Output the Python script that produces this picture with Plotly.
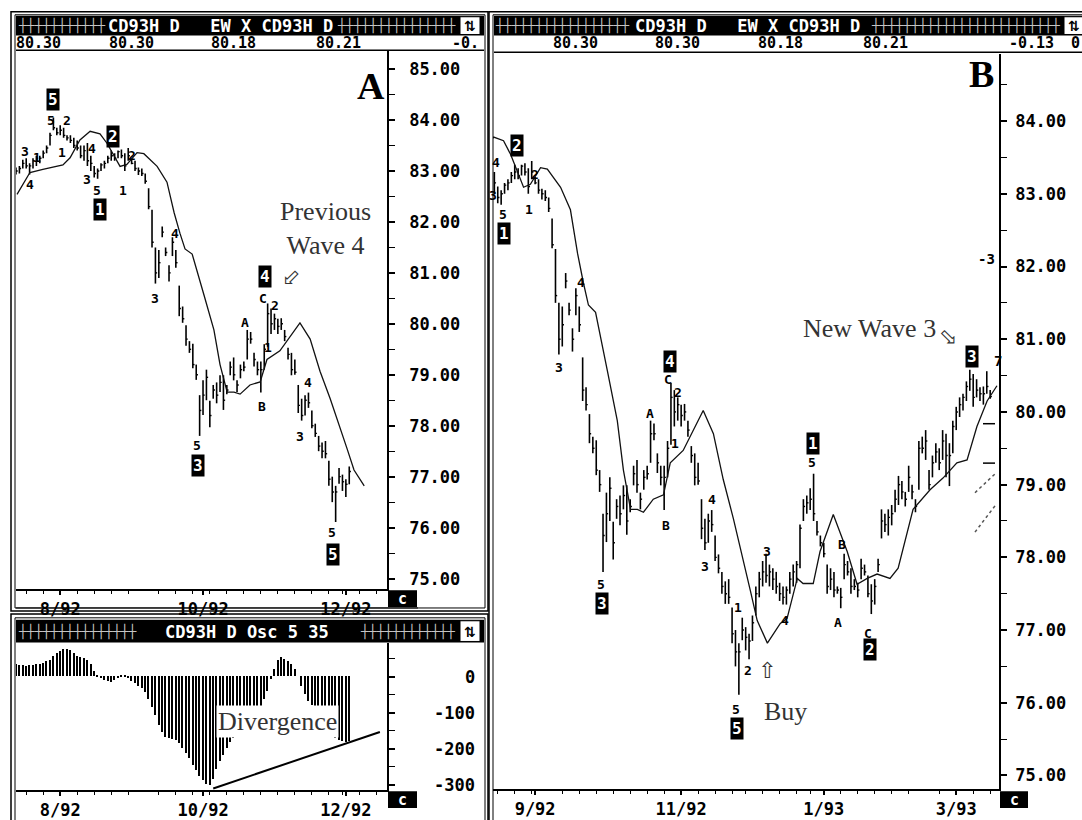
import pandas as pd
import plotly.graph_objects as go

W, H = 1082, 820
MONO = "DejaVu Sans Mono"
SERIF = "Liberation Serif"

# ---------------- data ----------------
title_main = "CD93H D   EW X CD93H D"
title_osc = "CD93H D Osc 5 35"
quote_row = ["80.30", "80.30", "80.18", "80.21", "-0.13", "0"]

first_day = "1992-07-15"
exchange_holidays = ["1992-09-07", "1992-11-26", "1992-12-25", "1993-01-01", "1993-02-15"]

highs = [83.07, 83.10, 83.22, 83.25, 83.15, 83.25, 83.30, 83.30, 83.40, 83.50,
         83.75, 84.05, 83.85, 83.90, 83.85, 83.70, 83.70, 83.65, 83.60, 83.50,
         83.50, 83.55, 83.30, 83.10, 83.05, 83.15, 83.20, 83.30, 83.40, 83.35,
         83.40, 83.42, 83.35, 83.45, 83.23, 83.20, 83.07, 83.05, 82.95, 82.66,
         82.24, 81.50, 81.45, 81.91, 81.50, 81.15, 81.70, 81.45, 80.75, 80.34,
         79.97, 79.66, 79.61, 79.20, 78.60, 78.89, 79.10, 78.49, 78.80, 78.85,
         78.99, 78.99, 78.80, 79.26, 79.34, 78.89, 79.20, 79.26, 79.88, 79.84,
         79.43, 79.26, 79.26, 79.60, 80.40, 80.30, 80.20, 80.10, 80.11, 79.88,
         79.53, 79.43, 79.30, 78.80, 78.53, 78.60, 78.65, 78.30, 78.04, 77.80,
         77.67, 77.70, 77.31, 77.00, 76.82, 77.17, 77.04, 76.95, 77.20, 77.60,
         77.80, 77.95, 78.05, 77.90, 77.85, 77.80, 77.65, 77.60, 77.60, 77.80,
         77.90, 77.95, 78.45, 78.80, 78.85, 78.95, 79.15, 78.50, 78.30, 78.20,
         77.90, 77.85, 77.80, 77.60, 77.58, 78.05, 77.95, 77.85, 77.70, 77.65,
         77.98, 77.90, 77.75, 77.63, 77.70, 77.98, 78.66, 78.60, 78.66, 78.72,
         78.93, 79.12, 79.05, 78.90, 79.26, 79.00, 78.80, 79.60, 79.66, 79.75,
         79.20, 79.40, 79.57, 79.50, 79.75, 79.70, 79.57, 79.88, 80.07, 80.20,
         80.25, 80.42, 80.58, 80.52, 80.45, 80.34, 80.35, 80.56, 80.30]
lows = [82.93, 82.95, 83.05, 83.05, 82.93, 83.05, 83.10, 83.15, 83.25, 83.35,
        83.50, 83.80, 83.70, 83.70, 83.65, 83.60, 83.55, 83.45, 83.40, 83.25,
        83.20, 83.10, 83.00, 82.87, 82.85, 83.00, 83.05, 83.15, 83.20, 83.20,
        83.25, 83.25, 83.00, 83.20, 83.13, 83.00, 82.92, 82.90, 82.75, 82.25,
        81.50, 80.79, 80.90, 81.70, 81.33, 80.83, 81.33, 81.10, 80.15, 80.02,
        79.57, 79.43, 79.13, 78.90, 77.80, 78.21, 78.50, 77.97, 78.53, 78.44,
        78.66, 78.31, 78.62, 78.99, 78.89, 78.66, 78.93, 79.07, 79.30, 79.61,
        79.16, 78.99, 78.65, 79.10, 79.55, 79.80, 79.88, 79.80, 79.88, 79.66,
        79.30, 78.99, 79.00, 78.25, 78.10, 78.20, 78.35, 77.95, 77.78, 77.50,
        77.36, 77.36, 76.82, 76.50, 76.11, 76.86, 76.72, 76.60, 76.85, 77.20,
        77.45, 77.60, 77.65, 77.60, 77.55, 77.50, 77.40, 77.35, 77.35, 77.50,
        77.60, 77.65, 77.85, 78.50, 78.60, 78.65, 78.50, 78.30, 78.15, 78.00,
        77.50, 77.55, 77.45, 77.50, 77.30, 77.70, 77.75, 77.50, 77.55, 77.45,
        77.70, 77.75, 77.45, 77.22, 77.35, 77.80, 78.26, 78.35, 78.30, 78.44,
        78.62, 78.72, 78.80, 78.70, 78.90, 78.80, 78.62, 78.93, 79.43, 79.34,
        78.93, 79.10, 79.30, 79.20, 79.34, 79.10, 78.98, 79.43, 79.75, 79.93,
        80.02, 80.15, 80.29, 80.07, 80.20, 80.15, 80.10, 80.25, 80.18]
closes = [83.00, 83.05, 83.15, 83.10, 83.10, 83.20, 83.25, 83.25, 83.35, 83.45,
          83.70, 83.85, 83.75, 83.80, 83.70, 83.65, 83.60, 83.50, 83.45, 83.30,
          83.40, 83.20, 83.15, 82.95, 83.00, 83.12, 83.15, 83.25, 83.30, 83.25,
          83.38, 83.30, 83.10, 83.30, 83.15, 83.05, 83.00, 82.95, 82.80, 82.30,
          81.60, 81.00, 81.20, 81.80, 81.40, 81.00, 81.60, 81.20, 80.30, 80.10,
          79.70, 79.50, 79.20, 79.00, 78.30, 78.60, 78.95, 78.20, 78.70, 78.60,
          78.85, 78.50, 78.70, 79.15, 79.00, 78.80, 79.10, 79.15, 79.70, 79.70,
          79.30, 79.10, 79.10, 79.50, 80.20, 80.00, 80.10, 79.95, 80.00, 79.75,
          79.40, 79.10, 79.05, 78.40, 78.20, 78.50, 78.45, 78.00, 77.85, 77.60,
          77.50, 77.45, 76.95, 76.70, 76.70, 77.00, 76.90, 76.85, 77.10, 77.50,
          77.70, 77.80, 77.75, 77.80, 77.70, 77.60, 77.50, 77.45, 77.55, 77.70,
          77.80, 77.90, 78.40, 78.70, 78.75, 78.80, 78.60, 78.35, 78.20, 78.05,
          77.60, 77.70, 77.55, 77.55, 77.45, 77.90, 77.80, 77.60, 77.60, 77.55,
          77.85, 77.80, 77.50, 77.40, 77.60, 77.90, 78.50, 78.45, 78.55, 78.60,
          78.80, 79.00, 78.90, 78.80, 79.10, 78.90, 78.70, 79.50, 79.50, 79.60,
          79.00, 79.30, 79.45, 79.30, 79.60, 79.40, 79.40, 79.80, 80.00, 80.10,
          80.20, 80.35, 80.45, 80.20, 80.30, 80.25, 80.25, 80.35, 80.21]

panel_a_last_bar = 98
panel_a_last_avg = 103.5

avg_x = [0.3, 4.1, 7.9, 13.8, 15.9, 18.8, 21.8, 24.7, 26.8, 30.6, 32.6, 35.6, 37.6,
         41.5, 44.4, 46.5, 48.2, 49.7, 51.8, 53.2, 55.3, 58.2, 60.0, 62.1, 64.1,
         65.9, 68.8, 71.8, 73.8, 77.6, 80.6, 83.5, 86.5, 89.4, 92.4, 95.3, 97.4,
         99.4, 102.4, 106.2, 108.2, 111.2, 112.9, 115.9, 117.9, 121.8, 125.9,
         128.8, 131.8, 134.7, 138.5, 140.9, 142.4, 145.3, 150.3, 154.1, 158.2,
         161.2, 164.1, 167.1, 170.0]
avg_y = [82.54, 82.97, 83.03, 83.12, 83.26, 83.61, 83.78, 83.73, 83.54, 83.09,
         83.13, 83.36, 83.34, 83.09, 82.78, 82.18, 81.78, 81.47, 81.37, 81.06,
         80.56, 79.88, 79.20, 78.66, 78.66, 78.62, 78.80, 78.86, 79.30, 79.47,
         79.75, 80.02, 79.70, 79.07, 78.53, 77.98, 77.54, 77.13, 76.82, 77.09,
         77.16, 77.71, 77.64, 77.64, 78.08, 78.59, 78.08, 77.63, 77.71, 77.77,
         77.71, 77.85, 78.12, 78.66, 78.93, 79.09, 79.30, 79.34, 79.80, 80.15,
         80.36]

osc_values = [34, 33, 31, 29, 31, 33, 34, 36, 38, 43,
              47, 57, 64, 70, 75, 77, 73, 66, 58, 53,
              52, 47, 34, 16, 4, -5, -9, -12, -16, -9,
              -3, 4, 2, -5, -12, -18, -26, -33, -44, -62,
              -85, -108, -135, -153, -167, -172, -174, -176, -185, -199,
              -213, -226, -245, -261, -277, -289, -300, -301, -286, -258,
              -236, -217, -199, -183, -172, -163, -153, -144, -135, -126,
              -117, -103, -85, -62, -39, -7, 20, 47, 55, 49,
              43, 34, 20, 0, -26, -48, -67, -80, -99, -117,
              -131, -144, -153, -163, -172, -176, -179, -181, -179]

divergence_x = [58, 107]
divergence_y = [-310, -153]

price_ticks_a = [75, 76, 77, 78, 79, 80, 81, 82, 83, 84, 85]
price_ticks_b = [75, 76, 77, 78, 79, 80, 81, 82, 83, 84]
osc_ticks = [0, -100, -200, -300]
month_labels_a = ["8/92", "10/92", "12/92"]
month_labels_b = ["9/92", "11/92", "1/93", "3/93"]

# wave counts: (bar position, price, label, boxed)
waves_a = [(2.6, 83.39, "3", False), (4.1, 82.74, "4", False), (6.2, 83.26, "1", False),
           (13.5, 83.36, "1", False), (10.3, 83.99, "5", False), (10.9, 84.40, "5", True),
           (15.0, 83.99, "2", False), (22.4, 83.45, "4", False), (20.9, 82.83, "3", False),
           (23.8, 82.62, "5", False), (24.7, 82.25, "1", True), (28.5, 83.68, "2", True),
           (34.1, 83.30, "2", False), (31.5, 82.62, "1", False), (46.8, 81.77, "4", False),
           (40.9, 80.49, "3", False), (67.4, 80.03, "A", False), (73.2, 80.92, "4", True),
           (72.6, 80.49, "C", False), (76.2, 80.36, "2", False), (74.1, 79.53, "1", False),
           (72.4, 78.38, "B", False), (85.9, 78.85, "4", False), (83.5, 77.79, "3", False),
           (53.2, 77.61, "5", False), (53.5, 77.22, "3", True), (92.9, 75.91, "5", False),
           (93.2, 75.48, "5", True)]
waves_b = [(22.4, 83.43, "4", False), (21.7, 82.98, "3", False), (24.4, 82.71, "5", False),
           (24.7, 82.46, "1", True), (28.8, 83.67, "2", True), (32.1, 82.78, "1", False),
           (34.1, 83.27, "2", False), (47.4, 81.78, "4", False), (40.9, 80.61, "3", False),
           (73.8, 80.70, "4", True), (73.2, 80.45, "C", False), (76.2, 80.27, "2", False),
           (75.3, 79.57, "1", False), (67.9, 79.98, "A", False), (72.4, 78.44, "B", False),
           (53.5, 77.63, "5", False), (53.8, 77.37, "3", True), (86.2, 78.80, "4", False),
           (84.1, 77.88, "3", False), (93.8, 77.31, "1", False), (93.2, 75.91, "5", False),
           (93.5, 75.64, "5", True), (96.8, 76.45, "2", False), (102.4, 78.08, "3", False),
           (107.6, 77.13, "4", False), (115.6, 79.30, "5", False), (115.9, 79.56, "1", True),
           (124.4, 78.17, "B", False), (123.2, 77.10, "A", False), (132.1, 76.95, "C", False),
           (132.6, 76.73, "2", True), (162.6, 80.76, "3", True)]

# ---------------- helpers ----------------
def px(x):
    return x / W


def py(y):
    return 1 - y / H


dates = pd.bdate_range(first_day, periods=len(highs) + 5, freq="C", holidays=exchange_holidays)
month_first = {}
for i, d in enumerate(dates):
    month_first.setdefault(f"{d.month}/{d.strftime('%y')}", i)
week_marks = [i for i, d in enumerate(dates) if d.weekday() == 0]


def bar_segments(n0, n1):
    xs, ys, cx, cy = [], [], [], []
    for i in range(n0, n1):
        xs += [i, i, None]
        ys += [highs[i], lows[i], None]
        cx += [i, i + 0.5, None]
        cy += [closes[i], closes[i], None]
    return xs, ys, cx, cy


fig = go.Figure()

# Panel A price bars
xs, ys, cx, cy = bar_segments(0, panel_a_last_bar + 1)
fig.add_trace(go.Scatter(x=xs, y=ys, mode="lines", line=dict(color="black", width=1.6),
                         xaxis="x", yaxis="y", hoverinfo="skip"))
fig.add_trace(go.Scatter(x=cx, y=cy, mode="lines", line=dict(color="black", width=1.4),
                         xaxis="x", yaxis="y", hoverinfo="skip"))
a_avg = [(x, y) for x, y in zip(avg_x, avg_y) if x <= panel_a_last_avg]
fig.add_trace(go.Scatter(x=[p[0] for p in a_avg], y=[p[1] for p in a_avg], mode="lines",
                         line=dict(color="#111111", width=1.3), xaxis="x", yaxis="y"))

# Panel B price bars
xs, ys, cx, cy = bar_segments(0, len(highs))
fig.add_trace(go.Scatter(x=xs, y=ys, mode="lines", line=dict(color="black", width=1.6),
                         xaxis="x2", yaxis="y2", hoverinfo="skip"))
fig.add_trace(go.Scatter(x=cx, y=cy, mode="lines", line=dict(color="black", width=1.4),
                         xaxis="x2", yaxis="y2", hoverinfo="skip"))
fig.add_trace(go.Scatter(x=avg_x, y=avg_y, mode="lines",
                         line=dict(color="#111111", width=1.3), xaxis="x2", yaxis="y2"))

# Oscillator
fig.add_trace(go.Bar(x=list(range(len(osc_values))), y=osc_values, width=0.4,
                     marker=dict(color="black", line=dict(width=0)), xaxis="x3", yaxis="y3"))
fig.add_trace(go.Scatter(x=divergence_x, y=divergence_y, mode="lines",
                         line=dict(color="black", width=2), xaxis="x3", yaxis="y3"))

tick_font = dict(family=MONO, size=17, color="black", weight="bold")


def x_axis(domain, rng, labels, anchor):
    return dict(domain=domain, range=rng, anchor=anchor,
                tickvals=[month_first[m] for m in labels], ticktext=labels,
                ticks="outside", ticklen=4, tickwidth=1.5, tickcolor="black",
                showline=True, linecolor="black", linewidth=1.5,
                showgrid=False, zeroline=False, tickfont=tick_font,
                minor=dict(tickvals=week_marks, ticks="outside", ticklen=3,
                           tickcolor="black", tickwidth=1))


def y_axis(domain, rng, ticks, anchor, fmt=True, standoff=12):
    return dict(domain=domain, range=rng, anchor=anchor, side="right",
                tickvals=ticks, ticktext=[f"{t:.2f}" for t in ticks] if fmt else None,
                showticklabels=fmt,
                ticks="outside", ticklen=6, tickwidth=1.5, tickcolor="black",
                ticklabelstandoff=standoff,
                showline=True, linecolor="black", linewidth=1.5,
                showgrid=False, zeroline=False, tickfont=tick_font,
                minor=dict(tickvals=[t + (0.5 if fmt else 50) for t in ticks],
                           ticks="outside", ticklen=6, tickcolor="black", tickwidth=1))


fig.update_layout(
    width=W, height=H, autosize=False, margin=dict(l=0, r=0, t=0, b=0),
    paper_bgcolor="white", plot_bgcolor="white", showlegend=False, bargap=0,
    xaxis=x_axis([px(16), px(387)], [0, 109.1], month_labels_a, "y"),
    yaxis=y_axis([py(598), py(51)], [74.79, 85.37], price_ticks_a, "x", standoff=11),
    xaxis2=x_axis([px(493), px(999)], [21.6, 170.6], month_labels_b, "y2"),
    yaxis2=y_axis([py(801), py(55)], [74.81, 84.92], price_ticks_b, "x2", standoff=5),
    xaxis3=x_axis([px(16), px(387)], [0, 109.1], month_labels_a, "y3"),
    yaxis3=y_axis([py(802), py(653)], [-315, 93], osc_ticks, "x3", fmt=False),
)

shapes = []


def rect(x0, y0, x1, y1, fill=None, lw=1.5, color="black"):
    shapes.append(dict(type="rect", xref="paper", yref="paper",
                       x0=px(x0), x1=px(x1), y0=py(y1), y1=py(y0),
                       line=dict(color=color, width=lw),
                       fillcolor=fill if fill else "rgba(0,0,0,0)", layer="above"))


def hline(x0, x1, y, lw=1.5):
    shapes.append(dict(type="line", xref="paper", yref="paper", x0=px(x0), x1=px(x1),
                       y0=py(y), y1=py(y), line=dict(color="black", width=lw), layer="above"))


# window frames (double lines)
rect(11, 12, 488, 620)
rect(15, 15, 485, 617, lw=1)
rect(11, 623, 488, 840)
rect(15, 627, 485, 840, lw=1)
rect(489, 12, 1100, 840)
rect(493, 15, 1100, 840, lw=1)
# header bars
rect(16, 16, 484, 36, fill="black", lw=0)
rect(494, 16, 1090, 36, fill="black", lw=0)
rect(16, 629, 484, 652, fill="black", lw=0)
# icon boxes
rect(460, 17, 480, 35, fill="white", lw=1)
rect(1064, 17, 1084, 35, fill="white", lw=1)
rect(460, 630, 480, 651, fill="white", lw=1)
# quote row underline
hline(16, 484, 51)
hline(494, 1090, 53)
# "c" boxes
rect(388, 599, 417, 616, fill="black", lw=0)
rect(388, 803, 417, 820, fill="black", lw=0)
rect(1000, 803, 1028, 820, fill="black", lw=0)
hline(16, 418, 617, lw=1)
# small drawing marks in panel B margin
hline(983, 995, 430)
hline(983, 995, 470)
shapes.append(dict(type="line", xref="paper", yref="paper", x0=px(975), x1=px(996),
                   y0=py(500), y1=py(480), line=dict(color="#555", width=1.5, dash="dot")))
shapes.append(dict(type="line", xref="paper", yref="paper", x0=px(975), x1=px(996),
                   y0=py(540), y1=py(512), line=dict(color="#555", width=1.5, dash="dot")))
fig.update_layout(shapes=shapes)


def note(text, x, y, xref="paper", yref="paper", size=14, color="black", family=MONO,
         bold=True, bg=None, xanchor="center", yanchor="middle", angle=0):
    if xref == "paper":
        x = px(x)
    if yref == "paper":
        y = py(y)
    fig.add_annotation(text=text, x=x, y=y, xref=xref, yref=yref, showarrow=False,
                       font=dict(family=family, size=size, color=color,
                                 weight="bold" if bold else "normal"),
                       bgcolor=bg, borderpad=1 if bg else 0,
                       xanchor=xanchor, yanchor=yanchor, textangle=angle)


# header lattice decoration
for x0, x1, y in [(17, 106, 26), (334, 458, 26), (495, 628, 26), (868, 1062, 26),
                  (17, 138, 641), (357, 458, 641)]:
    n = int((x1 - x0) / 7.8)
    note("┼" * n, (x0 + x1) / 2, y, size=13, color="#c4c4c4", bold=False)

note(title_main, 220, 26, size=17, color="white")
note(title_main, 747, 26, size=17, color="white")
note(title_osc, 247, 641, size=17, color="white")
for x, y in [(470, 26), (1074, 26), (470, 641)]:
    note("⇅", x, y, size=14, family="DejaVu Sans")

# quote rows
for x, t in zip([38, 131, 233, 338, 465], quote_row[:4] + [quote_row[4][:3]]):
    note(t, x, 44, size=15)
for x, t in zip([575, 677, 780, 885, 1031, 1075], quote_row):
    note(t, x, 44, size=15)

# c boxes
for x, y in [(402, 608), (402, 812), (1014, 812)]:
    note("c", x, y, size=15, color="white")

# oscillator tick labels
for t in osc_ticks:
    note(str(t), px(476) * W, t, yref="y3", size=17, xanchor="right")

# panel letters
note("A", 371, 87, size=38, family=SERIF)
note("B", 981, 75, size=38, family=SERIF)
note("-3", 986, 263, size=14)
note("7", 998, 366, size=14)

# wave labels
for (waves, xr, yr) in [(waves_a, "x", "y"), (waves_b, "x2", "y2")]:
    for x, y, t, boxed in waves:
        if boxed:
            note(t, x, y, xr, yr, size=16, color="white", bg="black")
        else:
            note(t, x, y, xr, yr, size=13)

# commentary
note("Previous<br>Wave 4", 90.9, 81.87, "x", "y", size=26, color="#333", family=SERIF, bold=False)
note("⇦", 80.8, 80.9, "x", "y", size=22, color="#333", family="DejaVu Sans", bold=False, angle=-45)
note("New Wave 3", 132.5, 81.15, "x2", "y2", size=26, color="#333", family=SERIF, bold=False)
note("⇨", 156.0, 81.03, "x2", "y2", size=22, color="#333", family="DejaVu Sans", bold=False, angle=45)
note("⇧", 102.3, 76.45, "x2", "y2", size=22, color="#333", family="DejaVu Sans", bold=False)
note("Buy", 107.6, 75.88, "x2", "y2", size=26, color="#333", family=SERIF, bold=False)
note("Divergence", 77, -123, "x3", "y3", size=26, color="#333", family=SERIF, bold=False,
     bg="white")

fig.write_html("out.html", config={"displayModeBar": False},
               post_script="document.body.style.margin='0';")
